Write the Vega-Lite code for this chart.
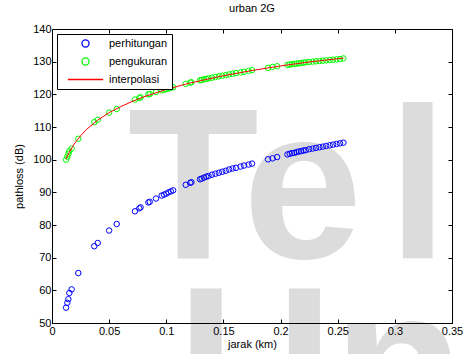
{
  "$schema": "https://vega.github.io/schema/vega-lite/v6.json",
  "width": 400,
  "height": 294,
  "autosize": "none",
  "padding": {"left": 52, "top": 29, "right": 13, "bottom": 31},
  "background": "white",
  "title": {"text": "urban 2G", "font": "Liberation Sans", "fontSize": 11, "fontWeight": "normal", "color": "black", "offset": 9},
  "config": {
    "view": {"stroke": "black", "strokeWidth": 1},
    "axis": {"domainColor": "black", "tickColor": "black", "labelColor": "black", "titleColor": "black", "labelFont": "Liberation Sans", "titleFont": "Liberation Sans", "labelFontSize": 11, "titleFontSize": 11, "titleFontWeight": "normal", "grid": false, "tickSize": -4, "domainWidth": 1, "tickWidth": 1, "labelFlush": false, "labelOverlap": false, "zindex": 1},
    "legend": {"labelFont": "Liberation Sans", "labelFontSize": 11, "labelColor": "black", "orient": "top-left", "offset": 5, "fillColor": "white", "strokeColor": "black", "padding": 4, "cornerRadius": 0, "rowPadding": 5, "symbolStrokeWidth": 1.3, "symbolSize": 50, "symbolOffset": 19, "labelOffset": 18, "zindex": 2}
  },
  "datasets": {
    "pts": [
      {"jarak": 0.0123, "perhitungan": 54.7, "pengukuran": 100.0},
      {"jarak": 0.0134, "perhitungan": 56.2, "pengukuran": 100.9},
      {"jarak": 0.0143, "perhitungan": 57.3, "pengukuran": 101.8},
      {"jarak": 0.0152, "perhitungan": 59.2, "pengukuran": 102.6},
      {"jarak": 0.0172, "perhitungan": 60.3, "pengukuran": 103.4},
      {"jarak": 0.023, "perhitungan": 65.3, "pengukuran": 106.4},
      {"jarak": 0.037, "perhitungan": 73.5, "pengukuran": 111.5},
      {"jarak": 0.040, "perhitungan": 74.5, "pengukuran": 112.2},
      {"jarak": 0.050, "perhitungan": 78.3, "pengukuran": 114.4},
      {"jarak": 0.0566, "perhitungan": 80.3, "pengukuran": 115.5},
      {"jarak": 0.0726, "perhitungan": 84.2, "pengukuran": 118.4},
      {"jarak": 0.0764, "perhitungan": 85.1, "pengukuran": 118.9},
      {"jarak": 0.0775, "perhitungan": 85.4, "pengukuran": 119.1},
      {"jarak": 0.0843, "perhitungan": 86.9, "pengukuran": 120.0},
      {"jarak": 0.0855, "perhitungan": 87.1, "pengukuran": 120.1},
      {"jarak": 0.091, "perhitungan": 88.1, "pengukuran": 120.7},
      {"jarak": 0.096, "perhitungan": 89.0, "pengukuran": 121.2},
      {"jarak": 0.098, "perhitungan": 89.3, "pengukuran": 121.4},
      {"jarak": 0.100, "perhitungan": 89.6, "pengukuran": 121.6},
      {"jarak": 0.102, "perhitungan": 90.0, "pengukuran": 121.8},
      {"jarak": 0.104, "perhitungan": 90.3, "pengukuran": 122.0},
      {"jarak": 0.106, "perhitungan": 90.6, "pengukuran": 122.2},
      {"jarak": 0.117, "perhitungan": 92.3, "pengukuran": 123.2},
      {"jarak": 0.121, "perhitungan": 92.9, "pengukuran": 123.6},
      {"jarak": 0.122, "perhitungan": 93.1, "pengukuran": 123.7},
      {"jarak": 0.1295, "perhitungan": 94.0, "pengukuran": 124.3},
      {"jarak": 0.131, "perhitungan": 94.2, "pengukuran": 124.4},
      {"jarak": 0.133, "perhitungan": 94.5, "pengukuran": 124.6},
      {"jarak": 0.135, "perhitungan": 94.8, "pengukuran": 124.7},
      {"jarak": 0.137, "perhitungan": 95.0, "pengukuran": 124.9},
      {"jarak": 0.140, "perhitungan": 95.4, "pengukuran": 125.1},
      {"jarak": 0.143, "perhitungan": 95.7, "pengukuran": 125.3},
      {"jarak": 0.146, "perhitungan": 96.0, "pengukuran": 125.5},
      {"jarak": 0.149, "perhitungan": 96.3, "pengukuran": 125.7},
      {"jarak": 0.152, "perhitungan": 96.6, "pengukuran": 125.9},
      {"jarak": 0.155, "perhitungan": 97.0, "pengukuran": 126.1},
      {"jarak": 0.158, "perhitungan": 97.3, "pengukuran": 126.3},
      {"jarak": 0.161, "perhitungan": 97.5, "pengukuran": 126.5},
      {"jarak": 0.165, "perhitungan": 97.9, "pengukuran": 126.7},
      {"jarak": 0.168, "perhitungan": 98.2, "pengukuran": 126.9},
      {"jarak": 0.172, "perhitungan": 98.5, "pengukuran": 127.2},
      {"jarak": 0.175, "perhitungan": 98.8, "pengukuran": 127.4},
      {"jarak": 0.189, "perhitungan": 100.1, "pengukuran": 128.1},
      {"jarak": 0.193, "perhitungan": 100.4, "pengukuran": 128.4},
      {"jarak": 0.197, "perhitungan": 100.8, "pengukuran": 128.6},
      {"jarak": 0.206, "perhitungan": 101.6, "pengukuran": 129.0},
      {"jarak": 0.208, "perhitungan": 101.8, "pengukuran": 129.1},
      {"jarak": 0.210, "perhitungan": 102.0, "pengukuran": 129.2},
      {"jarak": 0.212, "perhitungan": 102.1, "pengukuran": 129.3},
      {"jarak": 0.214, "perhitungan": 102.3, "pengukuran": 129.4},
      {"jarak": 0.216, "perhitungan": 102.5, "pengukuran": 129.5},
      {"jarak": 0.218, "perhitungan": 102.6, "pengukuran": 129.6},
      {"jarak": 0.220, "perhitungan": 102.8, "pengukuran": 129.7},
      {"jarak": 0.222, "perhitungan": 102.9, "pengukuran": 129.8},
      {"jarak": 0.225, "perhitungan": 103.2, "pengukuran": 129.9},
      {"jarak": 0.228, "perhitungan": 103.4, "pengukuran": 130.0},
      {"jarak": 0.231, "perhitungan": 103.6, "pengukuran": 130.1},
      {"jarak": 0.234, "perhitungan": 103.8, "pengukuran": 130.2},
      {"jarak": 0.237, "perhitungan": 104.0, "pengukuran": 130.3},
      {"jarak": 0.240, "perhitungan": 104.2, "pengukuran": 130.4},
      {"jarak": 0.243, "perhitungan": 104.4, "pengukuran": 130.5},
      {"jarak": 0.246, "perhitungan": 104.6, "pengukuran": 130.6},
      {"jarak": 0.249, "perhitungan": 104.8, "pengukuran": 130.7},
      {"jarak": 0.252, "perhitungan": 105.0, "pengukuran": 130.8},
      {"jarak": 0.255, "perhitungan": 105.2, "pengukuran": 131.0}
    ],
    "interp": [
      {"jarak": 0.0123, "pathloss": 100.2, "seri": "interpolasi"},
      {"jarak": 0.015, "pathloss": 102.2, "seri": "interpolasi"},
      {"jarak": 0.02, "pathloss": 105.1, "seri": "interpolasi"},
      {"jarak": 0.025, "pathloss": 107.3, "seri": "interpolasi"},
      {"jarak": 0.03, "pathloss": 109.2, "seri": "interpolasi"},
      {"jarak": 0.04, "pathloss": 112.1, "seri": "interpolasi"},
      {"jarak": 0.05, "pathloss": 114.4, "seri": "interpolasi"},
      {"jarak": 0.06, "pathloss": 116.2, "seri": "interpolasi"},
      {"jarak": 0.07, "pathloss": 117.8, "seri": "interpolasi"},
      {"jarak": 0.08, "pathloss": 119.2, "seri": "interpolasi"},
      {"jarak": 0.1, "pathloss": 121.5, "seri": "interpolasi"},
      {"jarak": 0.12, "pathloss": 123.4, "seri": "interpolasi"},
      {"jarak": 0.15, "pathloss": 125.7, "seri": "interpolasi"},
      {"jarak": 0.175, "pathloss": 127.3, "seri": "interpolasi"},
      {"jarak": 0.2, "pathloss": 128.7, "seri": "interpolasi"},
      {"jarak": 0.225, "pathloss": 129.9, "seri": "interpolasi"},
      {"jarak": 0.255, "pathloss": 131.1, "seri": "interpolasi"}
    ],
    "wm": [{"kata": "Tel"}]
  },
  "layer": [
    {
      "data": {"name": "wm"},
      "mark": {"type": "text", "text": "Te", "font": "Liberation Sans", "fontWeight": "bold", "fontSize": 215, "color": "#dcdcdc", "align": "left", "baseline": "alphabetic"},
      "encoding": {
        "x": {"datum": 0.066, "type": "quantitative", "scale": {"domain": [0, 0.35], "nice": false, "zero": false}, "axis": null},
        "y": {"datum": 70, "type": "quantitative", "scale": {"domain": [50, 140], "nice": false, "zero": false}, "axis": null}
      }
    },
    {
      "data": {"name": "wm"},
      "mark": {"type": "text", "text": "l", "font": "Liberation Sans", "fontWeight": "bold", "fontSize": 215, "color": "#dcdcdc", "align": "left", "baseline": "alphabetic"},
      "encoding": {
        "x": {"datum": 0.294, "type": "quantitative", "axis": null},
        "y": {"datum": 70, "type": "quantitative", "axis": null}
      }
    },
    {
      "data": {"name": "wm"},
      "mark": {"type": "text", "text": "Univ", "font": "Liberation Sans", "fontWeight": "bold", "fontSize": 215, "color": "#dcdcdc", "align": "left", "baseline": "alphabetic"},
      "encoding": {
        "x": {"datum": 0.11, "type": "quantitative", "axis": null},
        "y": {"datum": 15, "type": "quantitative", "axis": null}
      }
    },
    {
      "data": {"name": "pts"},
      "transform": [{"fold": ["perhitungan", "pengukuran"], "as": ["seri", "pathloss"]}],
      "mark": {"type": "point", "filled": false, "strokeWidth": 1, "opacity": 1},
      "encoding": {
        "x": {"field": "jarak", "type": "quantitative",
              "axis": {"title": "jarak (km)", "values": [0, 0.05, 0.1, 0.15, 0.2, 0.25, 0.3, 0.35], "format": ".2~f", "labelPadding": 6, "titlePadding": 2, "labelOverlap": false, "zindex": 3}},
        "y": {"field": "pathloss", "type": "quantitative",
              "axis": {"title": "pathloss (dB)", "values": [50, 60, 70, 80, 90, 100, 110, 120, 130, 140], "labelPadding": 5, "titlePadding": 8, "labelOverlap": false, "zindex": 3}},
        "color": {"field": "seri", "type": "nominal",
                  "scale": {"domain": ["perhitungan", "pengukuran", "interpolasi"], "range": ["#0000ff", "#00ff00", "#ff0000"]},
                  "legend": {"title": null, "encode": {"legend": {"update": {"stroke": {"value": "black"}, "strokeWidth": {"value": 1}, "fill": {"value": "white"}}}}}},
        "shape": {"field": "seri", "type": "nominal",
                  "scale": {"domain": ["perhitungan", "pengukuran", "interpolasi"], "range": ["circle", "circle", "M-5,0H5"]},
                  "legend": {"title": null}}
      }
    },
    {
      "data": {"name": "interp"},
      "mark": {"type": "line", "strokeWidth": 1},
      "encoding": {
        "x": {"field": "jarak", "type": "quantitative", "axis": null},
        "y": {"field": "pathloss", "type": "quantitative", "axis": null},
        "color": {"field": "seri", "type": "nominal"}
      }
    },
    {
      "data": {"name": "interp"},
      "mark": {"type": "line", "opacity": 0},
      "encoding": {
        "x": {"field": "jarak", "type": "quantitative",
              "axis": {"orient": "top", "labels": false, "title": null, "domain": false, "zindex": 3, "values": [0, 0.05, 0.1, 0.15, 0.2, 0.25, 0.3, 0.35]}},
        "y": {"field": "pathloss", "type": "quantitative",
              "axis": {"orient": "right", "labels": false, "title": null, "domain": false, "zindex": 3, "values": [50, 60, 70, 80, 90, 100, 110, 120, 130, 140]}}
      }
    }
  ],
  "resolve": {"axis": {"x": "independent", "y": "independent"}}
}
